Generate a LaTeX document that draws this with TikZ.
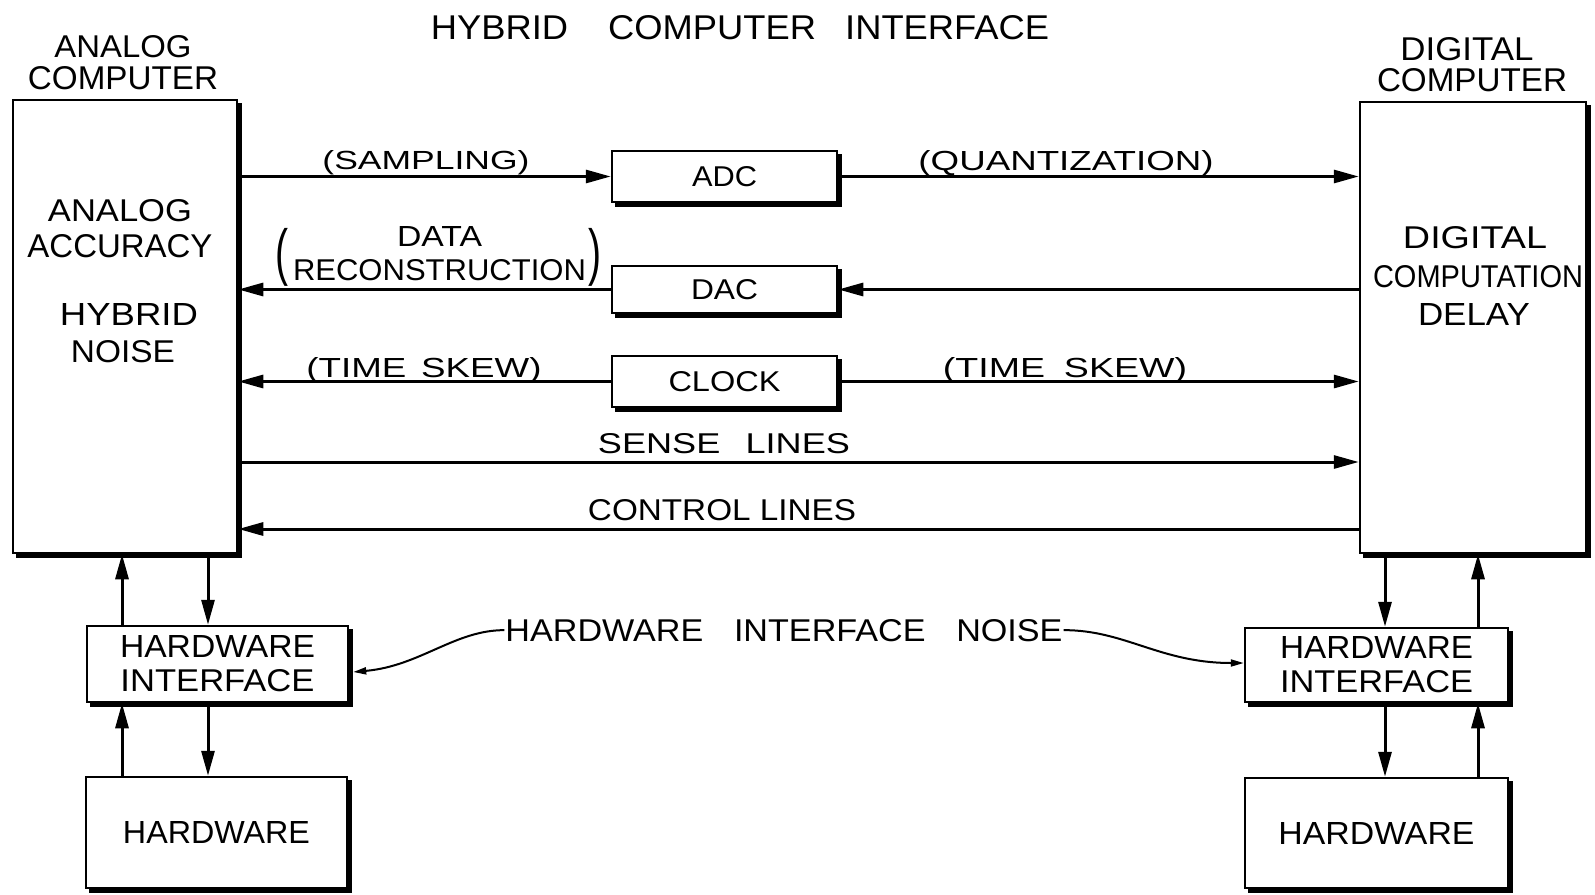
\documentclass[tikz,border=0pt]{standalone}
\usepackage{fontspec}
\setmainfont{Liberation Sans}
\usepackage{graphicx}
\usetikzlibrary{arrows.meta,shadows,calc}
\newcommand{\fitbox}[3]{\resizebox{#1pt}{#2pt}{#3}}
\begin{document}
\begin{tikzpicture}[x=1pt,y=-1pt,
  box/.style={draw, line width=2.5pt, fill=white, inner sep=0pt,
    general shadow={fill=black, draw=black, line width=2.5pt, shadow xshift=4pt, shadow yshift=-4pt}},
  txt/.style={inner sep=0pt, anchor=base},
  arr/.style={line width=3pt, -{Triangle[length=25pt,width=13pt]}},
  narr/.style={line width=2pt, -{Triangle[length=13pt,width=7pt]}},
  multi/.style={align=center, font=\fontsize{28}{34}\selectfont}
]
\useasboundingbox (0,0) rectangle (1595,894);

% boxes
\node[box, minimum width=224pt, minimum height=453pt] (ana) at (125,326.5) {};
\node[box, minimum width=226pt, minimum height=451pt] (dig) at (1473,327.5) {};
\node[box, minimum width=225pt, minimum height=51pt] (adc) at (724.5,176.5) {\fitbox{65}{20}{ADC}};
\node[box, minimum width=225pt, minimum height=47pt] (dac) at (724.5,289.5) {\fitbox{67}{20}{DAC}};
\node[box, minimum width=225pt, minimum height=51pt] (clk) at (724.5,381.5) {\fitbox{112}{20}{CLOCK}};
\node[box, multi, minimum width=261pt, minimum height=76pt] (hil) at (217.5,664) {\fitbox{195}{22}{HARDWARE}\\\fitbox{194}{22}{INTERFACE}};
\node[box, minimum width=261pt, minimum height=111pt] (hwl) at (216.5,832.5) {\fitbox{187}{22}{HARDWARE}};
\node[box, multi, minimum width=263pt, minimum height=74pt] (hir) at (1376.5,665) {\fitbox{193}{22}{HARDWARE}\\\fitbox{193}{22}{INTERFACE}};
\node[box, minimum width=263pt, minimum height=110pt] (hwr) at (1376.5,833) {\fitbox{196}{22}{HARDWARE}};

% titles and labels
\node[txt] (title) at (740,39) {\fitbox{618}{24}{HYBRID\hspace{1.1em}COMPUTER\hspace{0.8em}INTERFACE}};
\node[txt] (la1) at (123,57) {\fitbox{137}{22}{ANALOG}};
\node[txt] (la2) at (123,89.5) {\fitbox{190}{23}{COMPUTER}};
\node[txt] (ld1) at (1467,60.5) {\fitbox{133}{23}{DIGITAL}};
\node[txt] (ld2) at (1472,91.5) {\fitbox{190}{23}{COMPUTER}};

\node[txt] (aa1) at (120,221) {\fitbox{144}{22}{ANALOG}};
\node[txt] (aa2) at (120,257.5) {\fitbox{185}{23}{ACCURACY}};
\node[txt] (hn1) at (129,325) {\fitbox{138}{22}{HYBRID}};
\node[txt] (hn2) at (123,362) {\fitbox{104}{22}{NOISE}};

\node[txt] (dc1) at (1475,248) {\fitbox{144}{22}{DIGITAL}};
\node[txt] (dc2) at (1478,287) {\fitbox{210}{22}{COMPUTATION}};
\node[txt] (dc3) at (1474,325) {\fitbox{112}{22}{DELAY}};

\node[txt] (samp) at (426,169.5) {\fitbox{207}{19}{(SAMPLING)}};
\node[txt] (quant) at (1066,170) {\fitbox{295}{20}{(QUANTIZATION)}};
\node[inner sep=0pt, font=\fontsize{28}{34}\selectfont] (datarec) at (438,257)
  {$\vcenter{\hbox{\resizebox*{13pt}{58pt}{(}}}\kern5pt\vcenter{\hbox{\begin{tabular}{@{}c@{}}\fitbox{85}{20}{DATA}\\\fitbox{293}{21}{RECONSTRUCTION}\end{tabular}}}\kern2pt\vcenter{\hbox{\resizebox*{13pt}{58pt}{)}}}$};
\node[txt] (skl) at (424,377) {\fitbox{235}{20}{(TIME\hspace{0.4em}SKEW)}};
\node[txt] (skr) at (1065,377) {\fitbox{244}{20}{(TIME\hspace{0.5em}SKEW)}};
\node[txt] (sense) at (724,453) {\fitbox{252}{20}{SENSE\hspace{0.7em}LINES}};
\node[txt] (ctrl) at (722,520.5) {\fitbox{268}{21}{CONTROL LINES}};
\node[txt, inner sep=1pt] (noise) at (784,641) {\fitbox{557}{22}{HARDWARE\hspace{0.9em}INTERFACE\hspace{0.9em}NOISE}};

% horizontal connectors
\coordinate (sy) at (0,462);
\coordinate (cy) at (0,529);
\draw[arr] (ana.east |- adc.west) -- (adc.west);
\draw[arr] (adc.east) -- (dig.west |- adc.east);
\draw[arr] (dig.west |- dac.east) -- (dac.east);
\draw[arr] (dac.west) -- (ana.east |- dac.west);
\draw[arr] (clk.west) -- (ana.east |- clk.west);
\draw[arr] (clk.east) -- (dig.west |- clk.east);
\draw[arr] (ana.east |- sy) -- (dig.west |- sy);
\draw[arr] (dig.west |- cy) -- (ana.east |- cy);

% vertical connectors
\coordinate (xl1) at (122,0);
\coordinate (xl2) at (208,0);
\coordinate (xr1) at (1385,0);
\coordinate (xr2) at (1478,0);
\draw[arr] (xl1 |- hil.north) -- (xl1 |- ana.south);
\draw[arr] (xl2 |- ana.south) -- (xl2 |- hil.north);
\draw[arr] (xl1 |- hwl.north) -- (xl1 |- hil.south);
\draw[arr] (xl2 |- hil.south) -- (xl2 |- hwl.north);
\draw[arr] (xr1 |- dig.south) -- (xr1 |- hir.north);
\draw[arr] (xr2 |- hir.north) -- (xr2 |- dig.south);
\draw[arr] (xr1 |- hir.south) -- (xr1 |- hwr.north);
\draw[arr] (xr2 |- hwr.north) -- (xr2 |- hir.south);

% noise curves
\draw[narr] (noise.west) .. controls (455,630) and (420,666) .. ([xshift=4pt,yshift=-8pt]hil.east);
\draw[narr] (noise.east) .. controls (1125,630) and (1160,663) .. ([yshift=2pt]hir.west);
\end{tikzpicture}
\end{document}
